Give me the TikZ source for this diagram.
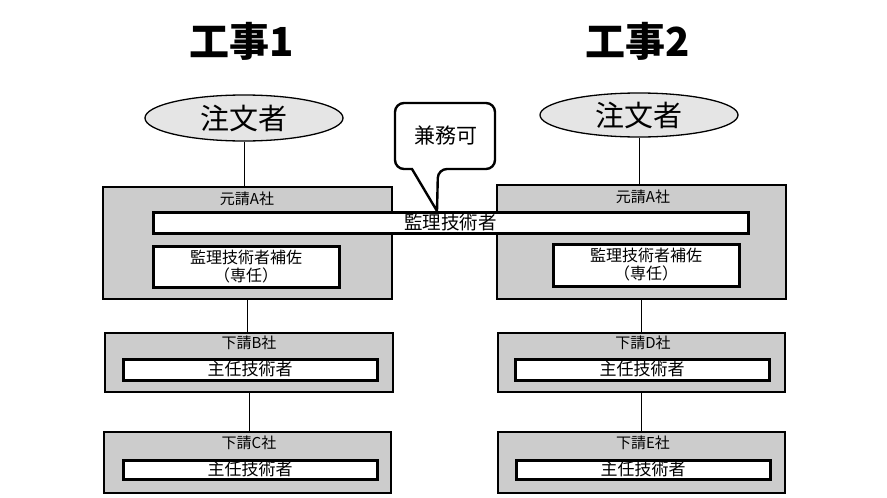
\documentclass[tikz,border=0pt]{standalone}
\usepackage{fontspec}
\newfontfamily\jp{Noto Sans CJK JP}
\usetikzlibrary{shapes.geometric}
\begin{document}
\begin{tikzpicture}[x=1pt,y=-1pt,
  company/.style={draw=black,line width=1.8pt,fill=black!20,minimum height=#1,inner sep=0pt},
  roleBar/.style={draw=black,line width=3pt,fill=white,inner sep=0pt,minimum height=#1,font=\jp\fontsize{17}{19}\selectfont},
  clientEll/.style={ellipse,draw=black,line width=1.3pt,fill=black!10,inner sep=0pt,font=\jp\fontsize{29}{31}\selectfont},
  compLabel/.style={font=\jp\fontsize{15}{17}\selectfont,inner sep=0pt},
  titleTxt/.style={font=\jp\bfseries\fontsize{40}{42}\selectfont,inner sep=0pt},
  link/.style={draw=black,line width=0.9pt}
]
\useasboundingbox (0,0) rectangle (887,498);
\fill[white] (0,0) rectangle (887,498);

% titles
\node[titleTxt] (t1) at (242,41) {工事1};
\node[titleTxt] (t2) at (638,41) {工事2};

% clients
\node[clientEll,minimum width=198pt,minimum height=46pt] (e1) at (244,118) {注文者};
\node[clientEll,minimum width=198pt,minimum height=44pt] (e2) at (639,115) {注文者};

% prime contractors
\node[company=112pt,minimum width=289pt] (a1) at (247.5,243) {};
\node[company=114pt,minimum width=289pt] (a2) at (641.5,242) {};
\node[compLabel] (a1l) at (247,199) {元請A社};
\node[compLabel] (a2l) at (643,197) {元請A社};

% assistants
\node[roleBar=41pt,minimum width=186pt,font=\jp\fontsize{16}{18}\selectfont,align=center] (h1) at (246,266.5) {監理技術者補佐\\（専任）};
\node[roleBar=42pt,minimum width=186pt,font=\jp\fontsize{16}{18}\selectfont,align=center] (h2) at (646,265) {監理技術者補佐\\（専任）};

% speech bubble
\draw[line width=2.4pt,fill=white] (412,169) [rounded corners=9pt] -- (395,169) -- (395,103) -- (495,103) -- (495,169) -- (438,169) [sharp corners] -- (437,211) -- cycle;
\node[font=\jp\fontsize{21}{23}\selectfont,inner sep=0pt] (kenmu) at (446,135) {兼務可};

% supervising engineer bar
\node[roleBar=21pt,minimum width=595pt,font=\jp\fontsize{18.5}{20}\selectfont] (kanri) at (450.5,222.5) {監理技術者};

% subcontractors
\node[company=59pt,minimum width=288pt] (b) at (249,362.5) {};
\node[compLabel] (bl) at (249,343) {下請B社};
\node[roleBar=21pt,minimum width=254pt] (bs) at (250,369.5) {主任技術者};

\node[company=61pt,minimum width=287pt] (c) at (247.5,462.5) {};
\node[compLabel] (cl) at (249,443) {下請C社};
\node[roleBar=19pt,minimum width=254pt] (cs) at (250,469.5) {主任技術者};

\node[company=59pt,minimum width=287pt] (d) at (641.5,362.5) {};
\node[compLabel] (dl) at (643,343) {下請D社};
\node[roleBar=21pt,minimum width=254pt] (ds) at (642,369.5) {主任技術者};

\node[company=61pt,minimum width=287pt] (ee) at (641.5,462.5) {};
\node[compLabel] (el) at (643,443) {下請E社};
\node[roleBar=19pt,minimum width=254pt] (es) at (643,469.5) {主任技術者};

% connectors
\draw[link] (e1.south) -- (e1.south |- a1.north);
\draw[link] (e2.south) -- (e2.south |- a2.north);
\draw[link] (a1.south) -- (a1.south |- b.north);
\draw[link] (b.south) -- (b.south |- c.north);
\draw[link] (a2.south) -- (a2.south |- d.north);
\draw[link] (d.south) -- (d.south |- ee.north);
\end{tikzpicture}
\end{document}
